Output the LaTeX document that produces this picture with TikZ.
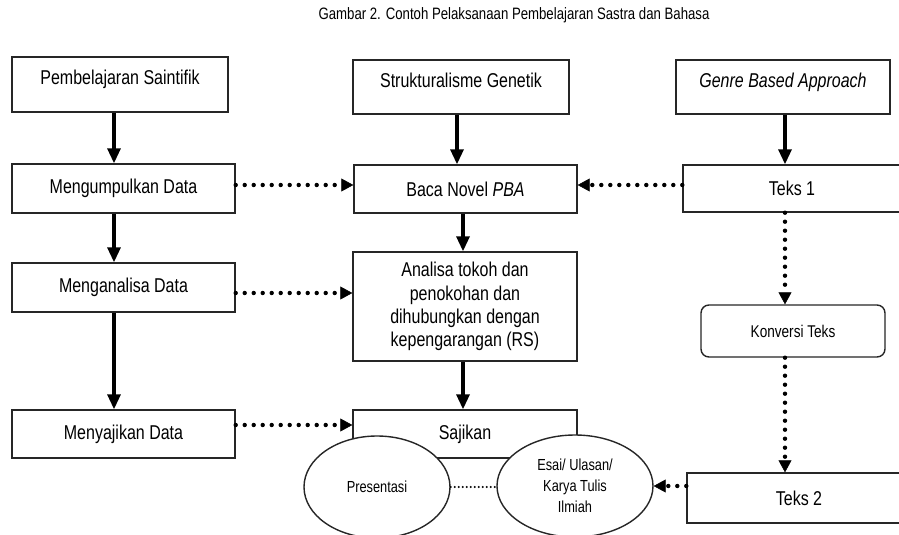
\documentclass[tikz,border=0pt]{standalone}
\usepackage{fontspec}
\setmainfont{Liberation Sans}[FakeStretch=0.8]
\usetikzlibrary{arrows.meta,shapes.geometric}
\begin{document}
\begin{tikzpicture}[x=1pt,y=-1pt,
  box/.style={draw=black!85, line width=1.4pt, rectangle, inner sep=0pt, fill=white,
    font=\fontsize{20}{24}\selectfont},
  topbox/.style={box, text height=15pt, text depth=15pt},
  oval/.style={draw=black!85, line width=1.4pt, ellipse, inner sep=0pt, fill=white,
    align=center, font=\fontsize{16}{21}\selectfont},
  solidarrow/.style={line width=3.2pt, -{Triangle[length=15pt,width=13pt]}},
  dotarrow/.style={line width=4.4pt, line cap=round, dash pattern=on 0pt off 9pt,
    -{Triangle[length=12pt,width=13pt,line width=0.5pt]}},
  smalldots/.style={line width=2.2pt, line cap=round, dash pattern=on 0pt off 4pt}
]
\useasboundingbox (0,0) rectangle (899,535);
\clip (0,0) rectangle (899,535);

% title
\node[font=\fontsize{16.5}{20}\selectfont] (title) at (514,15) {Gambar 2. Contoh Pelaksanaan Pembelajaran Sastra dan Bahasa};

% top row
\node[topbox, minimum width=216pt, minimum height=55pt] (ps) at (120,84.5) {Pembelajaran Saintifik};
\node[topbox, minimum width=216pt, minimum height=54pt] (sg) at (461,87) {Strukturalisme Genetik};
\node[topbox, minimum width=214pt, minimum height=54pt] (gba) at (783,87) {\itshape Genre Based Approach};

% second row
\node[box, minimum width=223pt, minimum height=49pt] (mk) at (123.5,188.5) {Mengumpulkan Data};
\node[box, minimum width=223pt, minimum height=48pt] (bn) at (465.5,189) {Baca Novel \textit{PBA}};
\node[box, minimum width=218pt, minimum height=47pt] (t1) at (792,188.5) {Teks 1};

% third row
\node[box, minimum width=223pt, minimum height=49pt] (md) at (123.5,287.5) {Menganalisa Data};
\node[box, minimum width=224pt, minimum height=109pt, align=center,
  font=\fontsize{20}{23.3}\selectfont] (an) at (465,306.5)
  {Analisa tokoh dan\\penokohan dan\\dihubungkan dengan\\kepengarangan (RS)};
\node[box, rounded corners=8pt, minimum width=184pt, minimum height=52pt,
  font=\fontsize{17}{20}\selectfont] (kt) at (793,331) {Konversi Teks};

% fourth row
\node[box, minimum width=223pt, minimum height=48pt] (mj) at (123.5,434) {Menyajikan Data};
\node[box, minimum width=224pt, minimum height=48pt] (sj) at (465,434) {Sajikan};
\node[box, minimum width=224pt, minimum height=50pt] (t2) at (799,498) {Teks 2};

% ellipses
\node[oval, minimum width=146pt, minimum height=102pt] (pr) at (377,487) {Presentasi};
\node[oval, minimum width=156pt, minimum height=102pt] (es) at (575,486) {Esai/ Ulasan/\\Karya Tulis\\Ilmiah};

% solid arrows
\draw[solidarrow] (ps.south -| 114,0) -- (mk.north -| 114,0);
\draw[solidarrow] (mk.south -| 114,0) -- (md.north -| 114,0);
\draw[solidarrow] (md.south -| 114,0) -- (mj.north -| 114,0);
\draw[solidarrow] (sg.south -| 457,0) -- (bn.north -| 457,0);
\draw[solidarrow] (bn.south -| 463,0) -- (an.north -| 463,0);
\draw[solidarrow] (an.south -| 463,0) -- (sj.north -| 463,0);
\draw[solidarrow] (gba.south -| 785,0) -- (t1.north -| 785,0);

% dotted arrows
\draw[dotarrow] (mk.east |- 0,185) -- (bn.west |- 0,185);
\draw[dotarrow] (t1.west |- 0,185) -- (bn.east |- 0,185);
\draw[dotarrow] (md.east |- 0,293) -- (an.west |- 0,293);
\draw[dotarrow] (mj.east |- 0,425) -- (sj.west |- 0,425);
\draw[dotarrow] (t1.south -| 785,0) -- (kt.north -| 785,0);
\draw[dotarrow] (kt.south -| 785,0) -- (t2.north -| 785,0);
\draw[dotarrow] (es.east -| t2.west) -- (es.east);
\draw[smalldots] (pr.east) -- (pr.east -| es.west);
\end{tikzpicture}
\end{document}
